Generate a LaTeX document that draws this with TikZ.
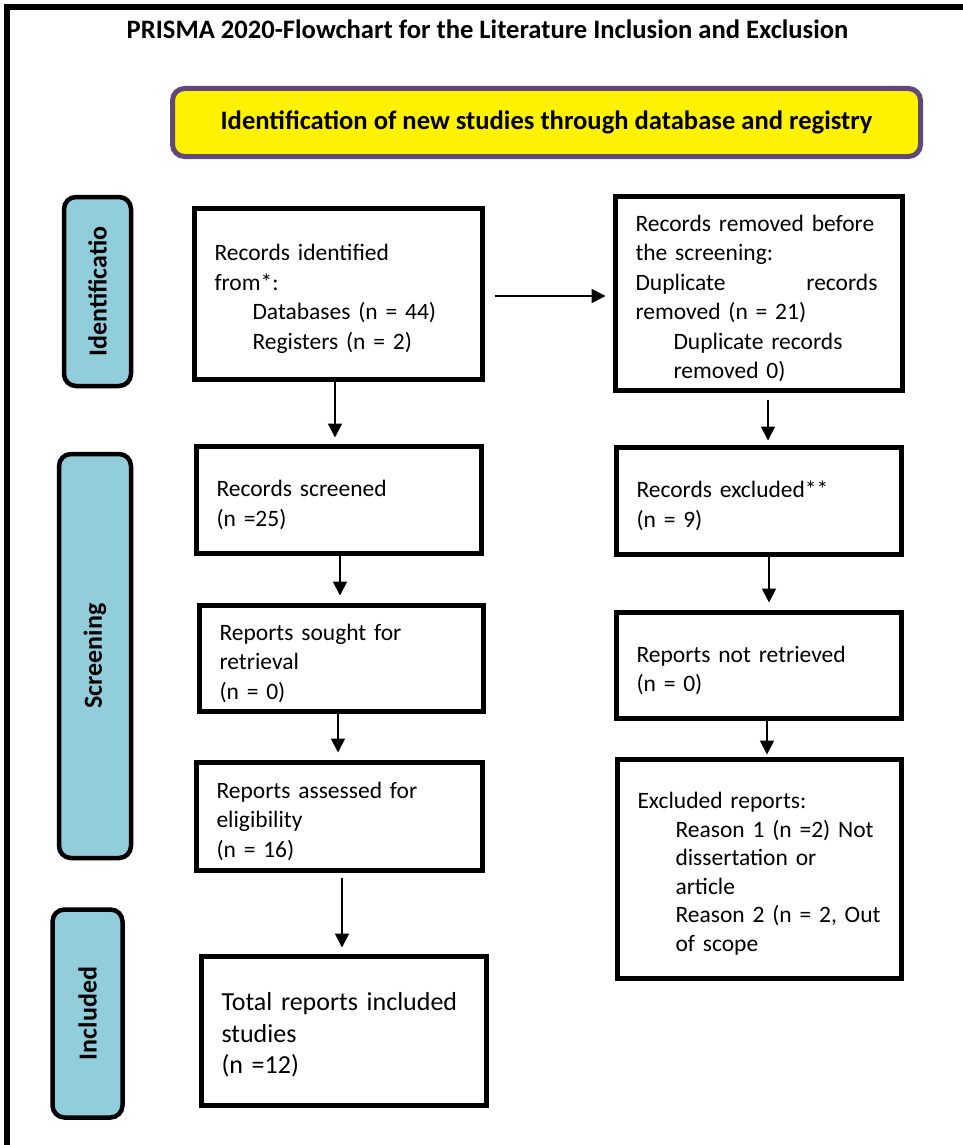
\documentclass[tikz,border=0pt]{standalone}
\usepackage{fontspec}
\setmainfont{Carlito}
\usetikzlibrary{arrows.meta}
\definecolor{sideblue}{HTML}{92CDDC}
\definecolor{purpleb}{HTML}{5F497A}
\newcommand{\ind}{\hspace*{38pt}}
\begin{document}
\begin{tikzpicture}[x=1pt,y=-1pt,
  box/.style={draw=black,line width=5pt,fill=white,align=left,inner xsep=20pt,inner ysep=0pt,
    font=\fontsize{23.5}{29.5}\selectfont,execute at begin node={\rule{0pt}{26pt}}},
  side/.style={draw=black,line width=4.5pt,fill=sideblue,rounded corners=12pt,rotate=90,
    inner sep=0pt,font=\fontsize{26}{30}\selectfont\bfseries},
  arr/.style={line width=1.8pt,-{Triangle[width=14pt,length=14pt]}},
]
\useasboundingbox (0,0) rectangle (963,1145);
\draw[line width=6.5pt] (7,1145) -- (7,7) -- (963,7);

\node[font=\fontsize{26.6}{30}\selectfont\bfseries] (title) at (487.5,29)
  {PRISMA 2020-Flowchart for the Literature Inclusion and Exclusion};
\node[draw=purpleb,line width=5pt,fill=yellow,rounded corners=12pt,minimum width=748pt,
  minimum height=68pt,font=\fontsize{26.6}{30}\selectfont\bfseries] (head) at (546.5,122.5)
  {Identification of new studies through database and registry};

% side bars
\node[side,minimum width=189pt,minimum height=67pt] (sideid) at (97.5,291.5) {Identificatio};
\node[side,minimum width=404pt,minimum height=72pt] (sidescr) at (95,656) {Screening};
\node[side,minimum width=208pt,minimum height=70pt] (sideinc) at (87.5,1013.5) {Included};

% left column
\node[box,text width=248pt,minimum height=171pt] (A) at (338.5,294)
  {Records identified\\from*:\\\ind Databases (n = 44)\\\ind Registers (n = 2)};
\node[box,text width=245pt,minimum height=107pt] (C) at (339,500)
  {Records screened\\(n =25)};
\node[box,text width=244pt,minimum height=106pt] (D) at (341.5,658.5)
  {Reports sought for\\retrieval\\(n = 0)};
\node[box,text width=246pt,minimum height=108pt] (E) at (339.5,816.5)
  {Reports assessed for\\eligibility\\(n = 16)};
\node[box,text width=245pt,minimum height=149pt,font=\fontsize{26}{31.5}\selectfont,
  execute at begin node={\rule{0pt}{24pt}}] (F) at (344,1031)
  {Total reports included\\studies\\(n =12)};

% right column
\node[box,text width=247pt,minimum height=194pt] (B) at (759,293.5)
  {Records removed before\\the screening:\\\makebox[242pt][l]{Duplicate\hfill records}\\removed (n = 21)\\\ind Duplicate records\\\ind removed 0)};
\node[box,text width=245pt,minimum height=107pt] (G) at (759,501)
  {Records excluded**\\(n = 9)};
\node[box,text width=245pt,minimum height=106pt] (H) at (759,665.5)
  {Reports not retrieved\\(n = 0)};
\node[box,text width=244pt,minimum height=219pt,font=\fontsize{23.5}{28.5}\selectfont,
  execute at begin node={\rule{0pt}{24pt}}] (I) at (759.5,869)
  {Excluded reports:\\\ind Reason 1 (n =2) Not\\\ind dissertation or\\\ind article\\\ind Reason 2 (n = 2, Out\\\ind of scope};

% connectors
\coordinate (ab) at ([xshift=9.5pt,yshift=-2pt]A.east);
\draw[arr,shorten >=7.5pt] (ab) -- (ab -| B.west);
\coordinate (ac) at ([xshift=-3.5pt]A.south);
\draw[arr,shorten >=6.5pt] (ac) -- (ac |- C.north);
\coordinate (cd) at ([xshift=1pt]C.south);
\draw[arr,shorten >=7.5pt] (cd) -- (cd |- D.north);
\coordinate (de) at ([xshift=-3.5pt]D.south);
\draw[arr,shorten >=7.5pt] (de) -- (de |- E.north);
\coordinate (ef) at ([xshift=2.5pt]E.south);
\draw[arr,shorten <=4.5pt,shorten >=6.5pt] (ef) -- (ef |- F.north);
\coordinate (bg) at ([xshift=9pt]B.south);
\draw[arr,shorten <=6.5pt,shorten >=4.5pt] (bg) -- (bg |- G.north);
\coordinate (gh) at ([xshift=10pt]G.south);
\draw[arr,shorten >=7.5pt] (gh) -- (gh |- H.north);
\coordinate (hi) at ([xshift=8pt]H.south);
\draw[arr,shorten >=2.5pt] (hi) -- (hi |- I.north);
\end{tikzpicture}
\end{document}
